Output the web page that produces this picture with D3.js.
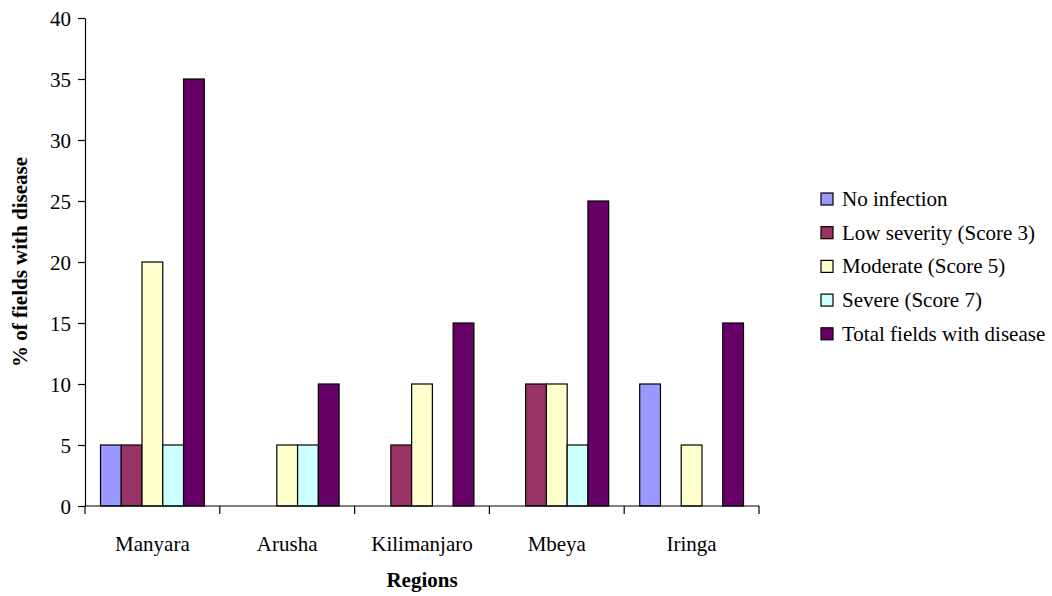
<!DOCTYPE html>
<html>
<head>
<meta charset="utf-8">
<script src="https://cdn.jsdelivr.net/npm/d3@7/dist/d3.min.js"></script>
<style>
  html, body { margin: 0; padding: 0; background: #fff; }
  svg { display: block; }
  svg text { font-family: "Liberation Serif", "Times New Roman", "DejaVu Serif", serif; fill: #000; }
</style>
</head>
<body>
<svg id="chart" width="1052" height="596"></svg>
<script>
// Regions surveyed
const regions = ["Manyara", "Arusha", "Kilimanjaro", "Mbeya", "Iringa"];

// Severity classes (legend order)
const seriesNames = [
  "No infection",
  "Low severity (Score 3)",
  "Moderate (Score 5)",
  "Severe (Score 7)",
  "Total fields with disease"
];
const seriesColors = ["#9999FF", "#993366", "#FFFFCC", "#CCFFFF", "#660066"];

// % of fields per severity class, one array per class, in region order
const noInfection = [5, 0, 0, 0, 10];
const lowSeverity = [5, 0, 5, 10, 0];
const moderate    = [20, 5, 10, 10, 5];
const severe      = [5, 5, 0, 5, 0];
const totalFields = [35, 10, 15, 25, 15];

const yTicks = [0, 5, 10, 15, 20, 25, 30, 35, 40];

const seriesValues = [noInfection, lowSeverity, moderate, severe, totalFields];

const FONT = "'Liberation Serif', 'Times New Roman', serif";
const FS = 21;

const svg = d3.select("#chart");
const plotLeft = 85, plotRight = 759, plotTop = 18, plotBottom = 506;

const x0 = d3.scaleBand().domain(regions).range([plotLeft, plotRight]).paddingInner(0).paddingOuter(0);
const groupPad = 15.5;
const x1 = d3.scaleBand().domain(d3.range(seriesNames.length))
  .range([groupPad, x0.bandwidth() - groupPad]).padding(0);
const y = d3.scaleLinear().domain([0, 40]).range([plotBottom, plotTop]);

// Bars
const groups = svg.append("g").selectAll("g")
  .data(regions)
  .join("g")
  .attr("transform", d => `translate(${x0(d)},0)`);

groups.selectAll("rect")
  .data((d, i) => seriesValues.map((vals, s) => ({ s, v: vals[i] })).filter(e => e.v > 0))
  .join("rect")
  .attr("x", e => x1(e.s))
  .attr("width", x1.bandwidth())
  .attr("y", e => y(e.v))
  .attr("height", e => y(0) - y(e.v))
  .attr("fill", e => seriesColors[e.s])
  .attr("stroke", "#000")
  .attr("stroke-width", 1.2);

// Y axis
const yAxis = d3.axisLeft(y).tickValues(yTicks).tickSize(7).tickPadding(7).tickSizeOuter(0);
const gy = svg.append("g").attr("transform", `translate(${plotLeft},0)`).call(yAxis)
  .attr("font-family", FONT).attr("font-size", FS);
gy.select(".domain").attr("stroke", "#000").attr("stroke-width", 1.2);
gy.selectAll(".tick line").attr("stroke", "#000").attr("stroke-width", 1.2);
gy.selectAll(".tick text").attr("fill", "#000").attr("dy", "0.34em");

// X axis: line along zero with tick marks at category boundaries
const gx = svg.append("g").attr("font-family", FONT).attr("font-size", FS);
gx.append("line")
  .attr("x1", plotLeft).attr("x2", plotRight)
  .attr("y1", y(0)).attr("y2", y(0))
  .attr("stroke", "#000").attr("stroke-width", 1.2);
const boundaries = regions.map(r => x0(r)).concat([x0(regions[regions.length - 1]) + x0.bandwidth()]);
gx.selectAll("line.tk")
  .data(boundaries)
  .join("line")
  .attr("class", "tk")
  .attr("x1", d => d).attr("x2", d => d)
  .attr("y1", y(0)).attr("y2", y(0) + 8)
  .attr("stroke", "#000").attr("stroke-width", 1.2);
gx.selectAll("text")
  .data(regions)
  .join("text")
  .attr("x", d => x0(d) + x0.bandwidth() / 2)
  .attr("y", 551)
  .attr("text-anchor", "middle")
  .text(d => d);

// Axis titles
svg.append("text")
  .attr("x", 422).attr("y", 587)
  .attr("text-anchor", "middle")
  .attr("font-family", FONT)
  .attr("font-size", FS).attr("font-weight", "bold")
  .text("Regions");

svg.append("text")
  .attr("transform", "translate(27,262) rotate(-90)")
  .attr("text-anchor", "middle")
  .attr("font-family", FONT)
  .attr("font-size", FS).attr("font-weight", "bold")
  .text("% of fields with disease");

// Legend
const legend = svg.append("g").attr("transform", "translate(821,199)")
  .attr("font-family", FONT).attr("font-size", FS);
const rows = legend.selectAll("g")
  .data(seriesNames)
  .join("g")
  .attr("transform", (d, i) => `translate(0,${i * 33.7})`);
rows.append("rect")
  .attr("x", 0).attr("y", -6)
  .attr("width", 12).attr("height", 12)
  .attr("fill", (d, i) => seriesColors[i])
  .attr("stroke", "#000").attr("stroke-width", 1.2);
rows.append("text")
  .attr("x", 21).attr("y", 7)
  .text(d => d);
</script>
</body>
</html>
